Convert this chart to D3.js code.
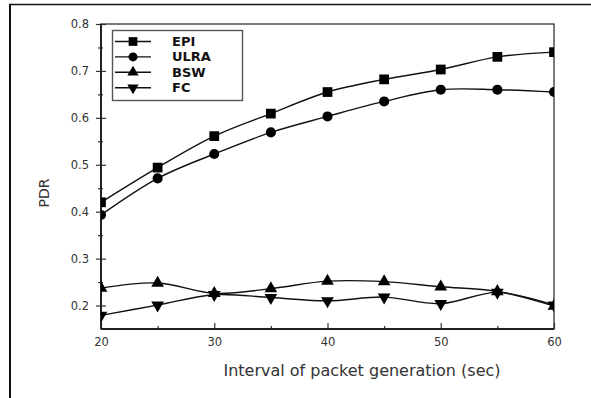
<!DOCTYPE html>
<html>
<head>
<meta charset="utf-8">
<script src="https://cdn.jsdelivr.net/npm/d3@7/dist/d3.min.js"></script>
<style>
  body { margin: 0; background: #fff; }
  svg { display: block; }
</style>
</head>
<body>
<svg id="chart" width="591" height="398"></svg>
<script>
// data
const intervals = [20, 25, 30, 35, 40, 45, 50, 55, 60];
const seriesNames = ['EPI', 'ULRA', 'BSW', 'FC'];
const epi  = [0.420, 0.494, 0.561, 0.609, 0.655, 0.682, 0.703, 0.730, 0.740];
const ulra = [0.393, 0.471, 0.523, 0.569, 0.603, 0.635, 0.660, 0.660, 0.655];
const bsw  = [0.237, 0.248, 0.226, 0.236, 0.252, 0.251, 0.240, 0.230, 0.199];
const fc   = [0.179, 0.201, 0.223, 0.217, 0.210, 0.218, 0.204, 0.228, 0.201];
const xTicks = [20, 30, 40, 50, 60];
const yTicks = [0.2, 0.3, 0.4, 0.5, 0.6, 0.7, 0.8];

const series = [
  { name: 'EPI', values: epi, shape: d3.symbolSquare, size: 95, rot: 0 },
  { name: 'ULRA', values: ulra, shape: d3.symbolCircle, size: 80, rot: 0 },
  { name: 'BSW', values: bsw, shape: d3.symbolTriangle, size: 70, rot: 0 },
  { name: 'FC', values: fc, shape: d3.symbolTriangle, size: 70, rot: 180 }
];

const svg = d3.select('#chart');
const pLeft = 101, pRight = 554, pTop = 24, pBottom = 329;

const x = d3.scaleLinear().domain([20, 60]).range([pLeft, pRight]);
const y = d3.scaleLinear().domain([0.15, 0.8]).range([pBottom, pTop]);

// outer frame (only top and left edges show)
svg.append('line').attr('x1', 9).attr('x2', 591).attr('y1', 4.5).attr('y2', 4.5)
   .attr('stroke', '#111').attr('stroke-width', 1.5);
svg.append('line').attr('x1', 10).attr('x2', 10).attr('y1', 4).attr('y2', 398)
   .attr('stroke', '#111').attr('stroke-width', 2);

// clip for data
svg.append('clipPath').attr('id', 'plotclip')
   .append('rect').attr('x', pLeft).attr('y', pTop).attr('width', pRight - pLeft).attr('height', pBottom - pTop);

// axes
const tickFont = '"DejaVu Sans", Verdana, sans-serif';

const gx = svg.append('g').attr('transform', `translate(0,${pBottom})`)
  .call(d3.axisBottom(x).tickValues(xTicks).tickSizeInner(-6).tickSizeOuter(0).tickPadding(9).tickFormat(d3.format('d')));
const gxMinor = svg.append('g').attr('transform', `translate(0,${pBottom})`)
  .call(d3.axisBottom(x).tickValues([25, 35, 45, 55]).tickSizeInner(-3).tickSizeOuter(0).tickFormat(''));

const gy = svg.append('g').attr('transform', `translate(${pLeft},0)`)
  .call(d3.axisLeft(y).tickValues(yTicks).tickSizeInner(5).tickSizeOuter(0).tickPadding(7).tickFormat(d3.format('.1f')));
const gyMinor = svg.append('g').attr('transform', `translate(${pLeft},0)`)
  .call(d3.axisLeft(y).tickValues([0.25, 0.35, 0.45, 0.55, 0.65, 0.75]).tickSizeInner(3).tickSizeOuter(0).tickFormat(''));
gy.selectAll('.tick line').attr('x1', 5);
gyMinor.selectAll('.tick line').attr('x1', 2);

[gx, gxMinor, gy, gyMinor].forEach(g => {
  g.select('.domain').remove();
  g.selectAll('.tick line').attr('stroke', '#333').attr('stroke-width', 1.2);
  g.selectAll('text').attr('font-family', tickFont).attr('font-size', 11.5).attr('fill', '#333');
});

// plot frame
svg.append('rect').attr('x', pLeft).attr('y', pTop).attr('width', pRight - pLeft).attr('height', pBottom - pTop)
   .attr('fill', 'none').attr('stroke', '#333').attr('stroke-width', 1.3);
svg.append('line').attr('x1', pLeft).attr('x2', pRight).attr('y1', pBottom).attr('y2', pBottom)
   .attr('stroke', '#222').attr('stroke-width', 2);
svg.append('line').attr('x1', pLeft).attr('x2', pLeft).attr('y1', pTop).attr('y2', pBottom)
   .attr('stroke', '#222').attr('stroke-width', 2);

// lines and markers
const line = d3.line()
  .x((d, i) => x(intervals[i]))
  .y(d => y(d))
  .curve(d3.curveCatmullRom.alpha(0.5));

const plot = svg.append('g').attr('clip-path', 'url(#plotclip)');

series.forEach(s => {
  plot.append('path').datum(s.values)
    .attr('d', line)
    .attr('fill', 'none').attr('stroke', '#111').attr('stroke-width', 1.4);
});

series.forEach(s => {
  plot.selectAll(null).data(s.values).enter().append('path')
    .attr('d', d3.symbol().type(s.shape).size(s.size))
    .attr('transform', (d, i) => `translate(${x(intervals[i])},${y(d)}) rotate(${s.rot})`)
    .attr('fill', '#000');
});

// legend
const lg = svg.append('g');
lg.append('rect').attr('x', 112.5).attr('y', 30.5).attr('width', 130).attr('height', 70)
  .attr('fill', '#fff').attr('stroke', '#555').attr('stroke-width', 1.4);
series.forEach((s, i) => {
  const ly = 41.5 + i * 15.4;
  lg.append('line').attr('x1', 115).attr('x2', 151).attr('y1', ly).attr('y2', ly)
    .attr('stroke', '#111').attr('stroke-width', 1.4);
  lg.append('path')
    .attr('d', d3.symbol().type(s.shape).size(s.size * 0.8))
    .attr('transform', `translate(133,${ly}) rotate(${s.rot})`)
    .attr('fill', '#000');
  lg.append('text').attr('x', 172).attr('y', ly).attr('dy', '0.35em')
    .attr('font-family', tickFont).attr('font-weight', 'bold').attr('font-size', 13)
    .attr('fill', '#111').text(seriesNames[i]);
});

// axis titles
svg.append('text').attr('x', 362).attr('y', 376).attr('text-anchor', 'middle')
  .attr('font-family', tickFont).attr('font-size', 16).attr('fill', '#333')
  .text('Interval of packet generation (sec)');
svg.append('text').attr('transform', 'translate(49,193) rotate(-90)').attr('text-anchor', 'middle')
  .attr('font-family', tickFont).attr('font-size', 14).attr('fill', '#333')
  .text('PDR');
</script>
</body>
</html>
